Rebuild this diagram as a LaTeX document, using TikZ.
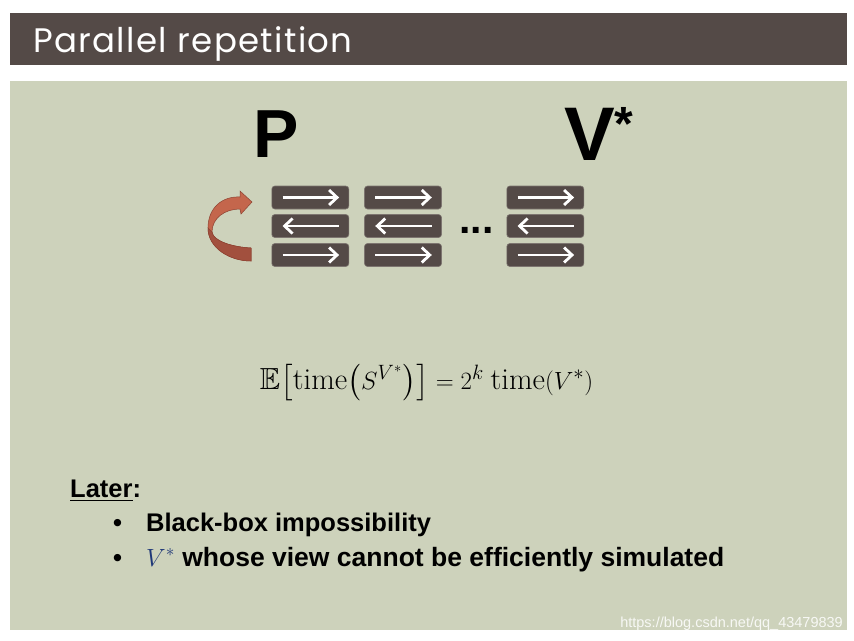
\documentclass[tikz,border=0pt]{standalone}
\usepackage{amsmath,amssymb}
\usepackage{fontspec}
\newfontfamily\arial{Liberation Sans}
\newfontfamily\titlefont[LetterSpace=4]{Poppins}
\usetikzlibrary{arrows.meta,positioning}
\definecolor{barbrown}{RGB}{84,74,71}
\definecolor{panelgreen}{RGB}{205,210,187}
\definecolor{boxedge}{RGB}{125,117,112}
\definecolor{curlred}{RGB}{196,102,76}
\definecolor{curldark}{RGB}{162,80,62}
\definecolor{curledge}{RGB}{140,66,50}
\definecolor{vblue}{RGB}{31,56,120}

\begin{document}
\begin{tikzpicture}[x=1pt,y=-1pt,
			msg/.style={rectangle,rounded corners=3pt,fill=barbrown,draw=boxedge,
				line width=0.6pt,minimum width=77pt,minimum height=23pt,inner sep=0pt},
			fwd/.style={white,line width=2.8pt,-{Straight Barb[length=8pt,width=15pt]}},
			bwd/.style={white,line width=2.8pt,{Straight Barb[length=8pt,width=15pt]}-},
			item/.style={font=\arial\bfseries\fontsize{25.5}{30}\selectfont,anchor=base west,inner sep=0pt}]
			
			\useasboundingbox (0,0) rectangle (854,640);
			\fill[white] (0,0) rectangle (854,640);
			
			% Title bar and panel
			\fill[barbrown] (10,13) rectangle (847,65);
			\node[anchor=base west,inner sep=0pt,white,font=\titlefont\fontsize{34}{34}\selectfont]
			(title) at (33,52) {Parallel repetition};
			\fill[panelgreen] (10,81) rectangle (847,630);
			
			% Parties
			\node[anchor=base,inner sep=0pt,font=\arial\bfseries\fontsize{68}{68}\selectfont]
			(P) at (276,157) {P};
			\node[anchor=base west,inner sep=0pt,font=\arial\bfseries\fontsize{76}{76}\selectfont]
			(V) at (564,160) {V\raisebox{20pt}{\fontsize{48}{48}\selectfont *}};
			
			% Message boxes: first repetition
			\node[msg] (A1) at (310.3,197.5) {};
			\node[msg] (A2) at (310.3,226) {};
			\node[msg] (A3) at (310.3,255) {};
			% second repetition
			\node[msg] (B1) at (403,197.5) {};
			\node[msg] (B2) at (403,226) {};
			\node[msg] (B3) at (403,255) {};
			% last repetition
			\node[msg] (C1) at (545.3,197.5) {};
			\node[msg] (C2) at (545.3,226) {};
			\node[msg] (C3) at (545.3,255) {};
			
			% Arrows inside the boxes
			\draw[fwd] ([xshift=11pt]A1.west) -- ([xshift=-10pt]A1.east);
			\draw[bwd] ([xshift=11pt]A2.west) -- ([xshift=-10pt]A2.east);
			\draw[fwd] ([xshift=11pt]A3.west) -- ([xshift=-10pt]A3.east);
			\draw[fwd] ([xshift=11pt]B1.west) -- ([xshift=-10pt]B1.east);
			\draw[bwd] ([xshift=11pt]B2.west) -- ([xshift=-10pt]B2.east);
			\draw[fwd] ([xshift=11pt]B3.west) -- ([xshift=-10pt]B3.east);
			\draw[fwd] ([xshift=11pt]C1.west) -- ([xshift=-10pt]C1.east);
			\draw[bwd] ([xshift=11pt]C2.west) -- ([xshift=-10pt]C2.east);
			\draw[fwd] ([xshift=11pt]C3.west) -- ([xshift=-10pt]C3.east);
			
			% Dots for omitted repetitions
			\node[anchor=base,inner sep=0pt,font=\arial\bfseries\fontsize{41}{41}\selectfont]
			(dots) at (476.5,233) {...};
			
			% Rewinding arrow
			\fill[curlred,draw=curledge,line width=0.5pt]
			(240,197) .. controls (222,196) and (208,208) .. (208,228)
			.. controls (208,248) and (230,261) .. (251,261)
			-- (251,248) .. controls (232,247) and (213,241) .. (212,232)
			.. controls (212,218) and (225,209) .. (240,209)
			-- (241,214) -- (252,202) -- (240,191) -- cycle;
			\fill[curldark,draw=curledge,line width=0.5pt]
			(208,228) .. controls (208,248) and (230,261) .. (251,261)
			-- (251,248) .. controls (232,247) and (213,241) .. (212,232)
			-- cycle;
			
			% Expected running time
			\node[anchor=base,inner sep=0pt,font=\fontsize{30.5}{36}\selectfont] (eq) at (426.5,389)
			{$\mathbb{E}\bigl[\mathrm{time}\bigl(S^{V^*}\bigr)\bigr] = 2^k\;\mathrm{time}(V^*)$};
			
			% Later
			\node[item] (later) at (70,497) {\underline{Later}:};
			\node[item] (b1) at (113,531) {\textbullet};
			\node[item] (t1) at (146,531) {Black-box impossibility};
			\node[item] (b2) at (113,566) {\textbullet};
			\node[item,font=\arial\bfseries\fontsize{26.5}{30}\selectfont] (t2) at (146,566)
			{{\color{vblue}$V^*$} whose view cannot be efficiently simulated};
			
			% Watermark
			\node[anchor=base east,inner sep=0pt,text=white,opacity=0.85,
			font=\arial\fontsize{14.5}{14.5}\selectfont] (mark) at (843,627)
			{https://blog.csdn.net/qq\_43479839};
			
		\end{tikzpicture}
\end{document}
